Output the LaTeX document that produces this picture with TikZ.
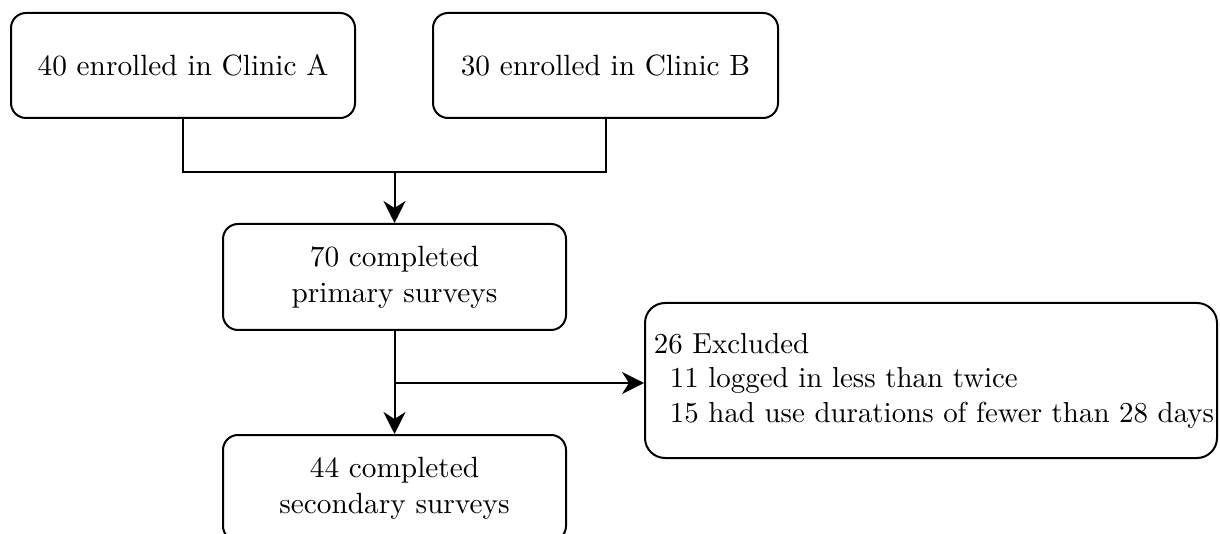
\documentclass[tikz,border=0pt]{standalone}
\usepackage{fontspec}
\setmainfont{lmroman10-regular.otf}
\usetikzlibrary{arrows.meta}
\begin{document}
\begin{tikzpicture}[x=1pt,y=-1pt,
  every node/.style={font=\fontsize{29.3pt}{36pt}\selectfont},
  box/.style={draw,line width=2pt,rounded corners=15pt,align=center,inner sep=0pt},
  conn/.style={line width=2pt},
  arr/.style={conn,-{Stealth[length=22pt,width=22pt,inset=7pt]}}]
\useasboundingbox (0,0) rectangle (1220,534);
\clip (0,0) rectangle (1220,534);
\fill[white] (0,0) rectangle (1220,534);
\node[box,minimum width=344pt,minimum height=105pt] (A) at (183,65.5) {40 enrolled in Clinic A};
\node[box,minimum width=345pt,minimum height=105pt] (B) at (605.5,65.5) {30 enrolled in Clinic B};
\node[box,minimum width=343pt,minimum height=106pt] (C) at (394.5,277) {70 completed\\primary surveys};
\node[box,minimum width=343pt,minimum height=106pt] (D) at (394.5,488) {44 completed\\secondary surveys};
\node[box,rounded corners=20pt,align=left,inner xsep=2pt,minimum width=572pt,minimum height=155pt,font=\fontsize{28.9pt}{34.5pt}\selectfont] (E) at (931,380.5)
  {\hspace*{6pt}26 Excluded\\\hspace*{22pt}11 logged in less than twice\\\hspace*{22pt}15 had use durations of fewer than 28 days};
\coordinate (m) at (394.5,172);
\coordinate (br) at (394.5,383);
\draw[conn] (A.south) |- (m) -| (B.south);
\draw[arr] (m) -- (C.north);
\draw[arr] (C.south) -- (D.north);
\draw[arr] (br) -- (br -| E.west);
\end{tikzpicture}
\end{document}
